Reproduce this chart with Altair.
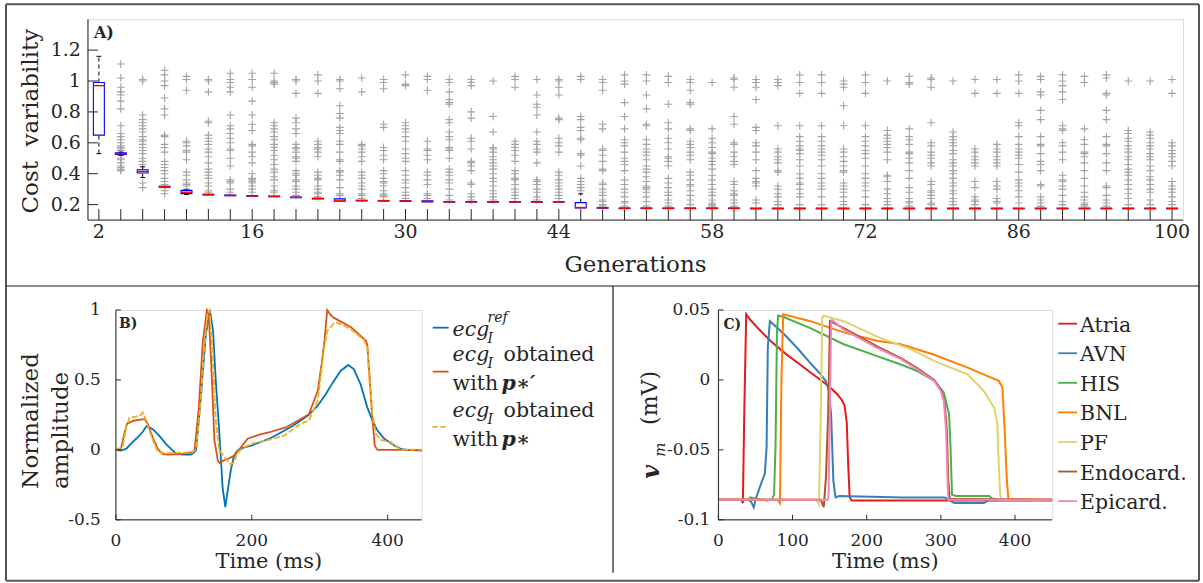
import altair as alt
import pandas as pd

FONT = "DejaVu Serif"
INK = "#262626"
PLUS = "M-1,0L1,0M0,-1L0,1"

# ---------------- Panel A: cost variability per generation ----------------
generations = list(range(2, 101, 2))

box_q1 = [0.65, 0.524, 0.405, 0.313, 0.271, 0.262, 0.257, 0.254, 0.251, 0.245,
          0.237, 0.222, 0.224, 0.223, 0.221, 0.217, 0.216, 0.216, 0.216, 0.216,
          0.216, 0.216, 0.178, 0.177, 0.174, 0.174, 0.174, 0.174, 0.174, 0.174,
          0.173, 0.173, 0.173, 0.173, 0.173, 0.173, 0.173, 0.173, 0.173, 0.173,
          0.173, 0.173, 0.173, 0.173, 0.173, 0.173, 0.173, 0.173, 0.173, 0.173]
box_median = [0.97, 0.53, 0.415, 0.316, 0.28, 0.265, 0.26, 0.256, 0.253, 0.247,
              0.239, 0.229, 0.226, 0.225, 0.223, 0.22, 0.218, 0.218, 0.217, 0.217,
              0.217, 0.217, 0.181, 0.179, 0.176, 0.176, 0.176, 0.176, 0.176, 0.176,
              0.175, 0.175, 0.175, 0.175, 0.175, 0.175, 0.175, 0.175, 0.175, 0.175,
              0.175, 0.175, 0.175, 0.175, 0.175, 0.175, 0.175, 0.175, 0.175, 0.175]
box_q3 = [0.99, 0.536, 0.426, 0.319, 0.292, 0.267, 0.262, 0.258, 0.255, 0.249,
          0.241, 0.238, 0.228, 0.227, 0.225, 0.225, 0.219, 0.219, 0.219, 0.219,
          0.219, 0.219, 0.213, 0.181, 0.178, 0.178, 0.178, 0.178, 0.178, 0.178,
          0.177, 0.177, 0.177, 0.177, 0.177, 0.177, 0.177, 0.177, 0.177, 0.177,
          0.177, 0.177, 0.177, 0.177, 0.177, 0.177, 0.177, 0.177, 0.177, 0.177]
whisker_lo = [0.53, 0.52, 0.375, 0.313, 0.265, 0.262, 0.257, 0.254, 0.251, 0.245,
              0.237, 0.222, 0.224, 0.223, 0.221, 0.217, 0.216, 0.216, 0.216, 0.216,
              0.216, 0.216, 0.178, 0.177, 0.174, 0.174, 0.174, 0.174, 0.174, 0.174,
              0.173, 0.173, 0.173, 0.173, 0.173, 0.173, 0.173, 0.173, 0.173, 0.173,
              0.173, 0.173, 0.173, 0.173, 0.173, 0.173, 0.173, 0.173, 0.173, 0.173]
whisker_hi = [1.16, 0.54, 0.445, 0.319, 0.295, 0.267, 0.262, 0.258, 0.255, 0.249,
              0.241, 0.238, 0.228, 0.227, 0.225, 0.225, 0.219, 0.219, 0.219, 0.219,
              0.219, 0.219, 0.27, 0.181, 0.178, 0.178, 0.178, 0.178, 0.178, 0.178,
              0.177, 0.177, 0.177, 0.177, 0.177, 0.177, 0.177, 0.177, 0.177, 0.177,
              0.177, 0.177, 0.177, 0.177, 0.177, 0.177, 0.177, 0.177, 0.177, 0.177]

outliers = [
    [],
    [1.11, 1.02, 0.96, 0.93, 0.91, 0.87, 0.82, 0.71, 0.66, 0.64, 0.62, 0.60, 0.58, 0.57, 0.56, 0.55, 0.52, 0.50, 0.49, 0.47, 0.45, 0.44, 0.43, 0.42],
    [1.01, 1.00, 0.78, 0.75, 0.73, 0.71, 0.69, 0.67, 0.64, 0.62, 0.61, 0.59, 0.57, 0.55, 0.53, 0.50, 0.48, 0.46, 0.34, 0.31],
    [1.07, 1.04, 1.00, 0.97, 0.89, 0.82, 0.78, 0.65, 0.64, 0.59, 0.57, 0.54, 0.48, 0.46, 0.44, 0.42, 0.40, 0.37, 0.35, 0.33, 0.31, 0.29, 0.27],
    [1.03, 1.01, 0.94, 0.61, 0.60, 0.58, 0.55, 0.54, 0.49, 0.41, 0.39, 0.36, 0.34, 0.33, 0.32, 0.30],
    [1.01, 1.00, 0.93, 0.74, 0.73, 0.65, 0.63, 0.61, 0.59, 0.56, 0.54, 0.51, 0.47, 0.43, 0.41, 0.39, 0.37, 0.34, 0.32, 0.29, 0.28],
    [1.05, 1.01, 0.99, 0.96, 0.93, 0.78, 0.71, 0.69, 0.66, 0.63, 0.60, 0.56, 0.55, 0.50, 0.45, 0.36, 0.35, 0.34, 0.30, 0.28],
    [1.05, 1.01, 0.96, 0.87, 0.78, 0.72, 0.68, 0.59, 0.58, 0.54, 0.51, 0.47, 0.40, 0.37, 0.36, 0.35, 0.34, 0.32, 0.30, 0.28],
    [1.05, 1.00, 0.99, 0.98, 0.73, 0.71, 0.69, 0.67, 0.64, 0.62, 0.59, 0.57, 0.55, 0.52, 0.49, 0.46, 0.43, 0.41, 0.38, 0.36, 0.32, 0.29, 0.28],
    [1.01, 1.00, 0.92, 0.76, 0.73, 0.69, 0.66, 0.59, 0.57, 0.56, 0.54, 0.51, 0.50, 0.48, 0.42, 0.40, 0.39, 0.36, 0.35, 0.32, 0.30, 0.28, 0.26],
    [1.04, 1.00, 0.92, 0.61, 0.59, 0.57, 0.56, 0.54, 0.51, 0.41, 0.39, 0.37, 0.36, 0.32, 0.30, 0.28, 0.27, 0.25],
    [1.01, 1.00, 0.95, 0.84, 0.79, 0.76, 0.70, 0.68, 0.66, 0.61, 0.59, 0.54, 0.49, 0.48, 0.42, 0.41, 0.39, 0.36, 0.31, 0.27, 0.26],
    [1.02, 0.93, 0.59, 0.58, 0.56, 0.54, 0.51, 0.48, 0.41, 0.39, 0.37, 0.34, 0.32, 0.30, 0.27, 0.26, 0.24],
    [1.01, 0.99, 0.95, 0.72, 0.70, 0.57, 0.55, 0.52, 0.49, 0.42, 0.40, 0.37, 0.35, 0.34, 0.32, 0.29, 0.27, 0.26, 0.25],
    [1.04, 0.98, 0.97, 0.73, 0.71, 0.69, 0.67, 0.64, 0.61, 0.56, 0.53, 0.50, 0.48, 0.42, 0.39, 0.36, 0.34, 0.31, 0.28, 0.26, 0.24],
    [1.03, 1.01, 0.94, 0.61, 0.56, 0.55, 0.52, 0.49, 0.41, 0.39, 0.36, 0.33, 0.27, 0.26, 0.24],
    [1.01, 0.99, 0.93, 0.88, 0.86, 0.85, 0.75, 0.73, 0.67, 0.64, 0.62, 0.57, 0.56, 0.55, 0.50, 0.43, 0.41, 0.39, 0.36, 0.34, 0.30, 0.26, 0.23],
    [1.01, 0.99, 0.97, 0.80, 0.76, 0.63, 0.61, 0.56, 0.48, 0.47, 0.45, 0.42, 0.34, 0.33, 0.27, 0.25, 0.23],
    [1.00, 0.77, 0.67, 0.57, 0.56, 0.54, 0.51, 0.49, 0.47, 0.45, 0.43, 0.40, 0.37, 0.35, 0.32, 0.29, 0.27, 0.25, 0.23],
    [1.03, 1.01, 0.96, 0.61, 0.59, 0.57, 0.55, 0.52, 0.48, 0.42, 0.40, 0.37, 0.36, 0.33, 0.30, 0.28, 0.26, 0.24],
    [1.01, 0.91, 0.85, 0.83, 0.78, 0.67, 0.61, 0.59, 0.56, 0.54, 0.47, 0.36, 0.35, 0.33, 0.30, 0.28, 0.25, 0.23],
    [1.01, 1.00, 0.96, 0.91, 0.76, 0.75, 0.63, 0.60, 0.58, 0.54, 0.41, 0.39, 0.36, 0.34, 0.32, 0.30, 0.28, 0.26, 0.24],
    [1.03, 1.01, 0.77, 0.75, 0.70, 0.68, 0.63, 0.62, 0.53, 0.52, 0.45, 0.37, 0.35, 0.33, 0.31, 0.29],
    [1.01, 0.99, 0.94, 0.72, 0.69, 0.56, 0.55, 0.52, 0.48, 0.43, 0.42, 0.34, 0.33, 0.30, 0.28, 0.26, 0.23, 0.22, 0.20, 0.19],
    [1.04, 1.00, 0.98, 0.86, 0.77, 0.69, 0.62, 0.60, 0.58, 0.54, 0.50, 0.48, 0.46, 0.42, 0.36, 0.33, 0.30, 0.28, 0.25, 0.22, 0.21, 0.19],
    [1.04, 1.00, 0.91, 0.82, 0.72, 0.71, 0.62, 0.59, 0.56, 0.54, 0.52, 0.49, 0.45, 0.43, 0.41, 0.38, 0.35, 0.32, 0.31, 0.30, 0.28, 0.25, 0.22, 0.19],
    [1.03, 0.99, 0.85, 0.73, 0.69, 0.63, 0.60, 0.56, 0.51, 0.50, 0.48, 0.45, 0.37, 0.34, 0.31, 0.28, 0.26, 0.23, 0.21, 0.19],
    [1.01, 0.99, 0.94, 0.86, 0.85, 0.69, 0.68, 0.61, 0.59, 0.57, 0.54, 0.52, 0.49, 0.41, 0.39, 0.36, 0.33, 0.32, 0.29, 0.26, 0.23, 0.20],
    [0.99, 0.69, 0.63, 0.60, 0.57, 0.54, 0.53, 0.50, 0.48, 0.46, 0.43, 0.39, 0.36, 0.33, 0.30, 0.28, 0.26, 0.23, 0.21, 0.20, 0.19],
    [1.02, 1.01, 0.96, 0.77, 0.72, 0.60, 0.59, 0.54, 0.51, 0.48, 0.46, 0.35, 0.33, 0.29, 0.27, 0.26, 0.23, 0.21, 0.19],
    [1.01, 0.99, 0.96, 0.88, 0.70, 0.68, 0.60, 0.58, 0.54, 0.49, 0.42, 0.37, 0.35, 0.34, 0.32, 0.23, 0.21],
    [1.01, 0.99, 0.97, 0.71, 0.56, 0.54, 0.51, 0.49, 0.47, 0.42, 0.41, 0.32, 0.30, 0.27, 0.25, 0.22, 0.20],
    [1.04, 0.99, 0.92, 0.71, 0.64, 0.61, 0.58, 0.56, 0.55, 0.53, 0.49, 0.45, 0.40, 0.37, 0.34, 0.33, 0.30, 0.27, 0.25, 0.20],
    [1.04, 0.99, 0.92, 0.71, 0.64, 0.61, 0.58, 0.56, 0.54, 0.52, 0.49, 0.45, 0.40, 0.37, 0.34, 0.32, 0.30, 0.25, 0.20],
    [1.00, 0.98, 0.96, 0.84, 0.71, 0.56, 0.54, 0.51, 0.48, 0.45, 0.42, 0.41, 0.34, 0.32, 0.30, 0.28, 0.25, 0.22, 0.20],
    [1.04, 0.99, 0.92, 0.71, 0.64, 0.61, 0.58, 0.55, 0.53, 0.50, 0.45, 0.40, 0.37, 0.34, 0.32, 0.29, 0.25, 0.20],
    [1.00, 0.68, 0.65, 0.63, 0.61, 0.59, 0.57, 0.54, 0.49, 0.39, 0.38, 0.35, 0.30, 0.27, 0.24, 0.22, 0.20],
    [1.03, 0.99, 0.98, 0.69, 0.64, 0.62, 0.59, 0.54, 0.53, 0.50, 0.47, 0.42, 0.37, 0.31, 0.28, 0.24, 0.22, 0.21, 0.19],
    [1.02, 1.01, 0.96, 0.73, 0.60, 0.58, 0.54, 0.52, 0.50, 0.47, 0.45, 0.35, 0.33, 0.29, 0.28, 0.26, 0.24, 0.21, 0.20],
    [1.00, 0.67, 0.64, 0.62, 0.60, 0.58, 0.55, 0.53, 0.49, 0.47, 0.45, 0.42, 0.40, 0.37, 0.34, 0.32, 0.29, 0.27, 0.24, 0.22, 0.20],
    [1.01, 0.92, 0.56, 0.54, 0.51, 0.49, 0.47, 0.45, 0.35, 0.31, 0.25, 0.23, 0.22, 0.20],
    [1.01, 0.92, 0.59, 0.56, 0.54, 0.51, 0.49, 0.47, 0.45, 0.35, 0.32, 0.30, 0.24, 0.22, 0.21],
    [1.04, 1.00, 0.92, 0.73, 0.71, 0.64, 0.59, 0.56, 0.54, 0.52, 0.50, 0.46, 0.41, 0.36, 0.34, 0.32, 0.29, 0.25, 0.21],
    [1.03, 1.01, 0.93, 0.91, 0.81, 0.75, 0.64, 0.59, 0.58, 0.53, 0.48, 0.46, 0.42, 0.33, 0.32, 0.25, 0.23, 0.21, 0.19],
    [1.04, 1.00, 0.97, 0.93, 0.88, 0.71, 0.69, 0.68, 0.60, 0.58, 0.54, 0.49, 0.39, 0.36, 0.35, 0.32, 0.30, 0.26, 0.22, 0.20],
    [1.03, 0.99, 0.69, 0.62, 0.59, 0.54, 0.53, 0.51, 0.47, 0.42, 0.37, 0.32, 0.28, 0.25, 0.23, 0.21, 0.20, 0.19],
    [1.04, 1.02, 0.92, 0.91, 0.81, 0.75, 0.64, 0.59, 0.58, 0.53, 0.47, 0.42, 0.32, 0.31, 0.26, 0.23, 0.21, 0.19],
    [1.00, 0.68, 0.66, 0.63, 0.61, 0.58, 0.56, 0.54, 0.51, 0.49, 0.46, 0.43, 0.41, 0.39, 0.36, 0.33, 0.30, 0.27, 0.24, 0.20],
    [1.00, 0.67, 0.65, 0.63, 0.60, 0.58, 0.56, 0.53, 0.51, 0.49, 0.45, 0.42, 0.38, 0.36, 0.33, 0.30, 0.28, 0.23, 0.20],
    [1.01, 0.92, 0.60, 0.58, 0.55, 0.53, 0.51, 0.48, 0.45, 0.35, 0.32, 0.30, 0.28, 0.25, 0.22, 0.20],
]

gen_labels = [2, 16, 30, 44, 58, 72, 86, 100]
gen_label_text = ["2", "16", "30", "44", "58", "72", "86", "100"]
cost_ticks = [0.2, 0.4, 0.6, 0.8, 1.0, 1.2]
cost_tick_text = ["0.2", "0.4", "0.6", "0.8", "1", "1.2"]

# ---------------- Panel B: lead-I ECG comparison ----------------
ref_t = [0, 7, 15, 24.5, 32, 39, 45, 54, 64, 73.6, 81, 88, 98, 110.6, 115, 118, 125, 132.5,
         138.4, 143, 147, 152, 157, 161, 164, 169, 174, 179, 184, 199, 215, 230, 245, 260,
         272, 284, 297, 309, 321, 331, 342, 350, 360, 370, 377.5, 385, 395, 410, 419, 429, 450]
ref_v = [0, -0.005, 0.007, 0.055, 0.09, 0.126, 0.17, 0.15, 0.10, 0.043, 0.007, -0.024, -0.033,
         -0.033, -0.02, 0.0, 0.376, 0.83, 1.0, 0.85, 0.495, 0.138, -0.267, -0.41, -0.31,
         -0.148, -0.04, -0.005, 0.01, 0.03, 0.06, 0.09, 0.13, 0.17, 0.21, 0.25, 0.316, 0.40,
         0.495, 0.566, 0.607, 0.578, 0.471, 0.304, 0.21, 0.138, 0.079, 0.031, 0.007, 0.0, -0.005]

pprime_t = [0, 7.4, 12.3, 16.2, 22, 27, 34, 42, 47, 54, 61.6, 69, 76.5, 96, 113, 116, 122,
            128, 134, 136.5, 140.4, 145, 150, 153, 158, 165, 174.6, 184, 194, 210, 226, 250,
            272, 284, 297, 303, 307, 311, 316, 320, 346, 368, 370, 373, 377, 381, 385, 450]
pprime_v = [0, 0.007, 0.114, 0.186, 0.2, 0.21, 0.215, 0.22, 0.186, 0.09, 0.007, -0.03, -0.033,
            -0.03, -0.017, 0.007, 0.3, 0.78, 1.0, 0.98, 0.61, 0.067, -0.076, -0.095, -0.076,
            -0.064, -0.04, 0.019, 0.08, 0.107, 0.126, 0.16, 0.22, 0.255, 0.42, 0.62, 0.78, 1.0,
            0.964, 0.947, 0.876, 0.78, 0.75, 0.55, 0.25, 0.03, 0.0, 0.0]

pstar_t = [0, 10, 15, 20, 27, 37, 39.6, 43, 49, 56.6, 61.6, 71, 96, 113, 118, 124, 130, 135,
           138, 142, 147, 152, 159.6, 169, 174, 179, 189, 203, 223, 247, 272, 284, 297, 306.6,
           311, 321, 326, 345.6, 365, 370, 372.5, 377.5, 382.6, 390, 404.7, 412, 419, 450]
pstar_v = [0, 0.02, 0.16, 0.23, 0.235, 0.25, 0.267, 0.23, 0.14, 0.043, -0.013, -0.024, -0.02,
           -0.017, 0.007, 0.3, 0.73, 0.98, 1.0, 0.73, 0.21, 0.0, -0.05, -0.105, -0.088, -0.02,
           0.02, 0.048, 0.07, 0.1, 0.186, 0.21, 0.35, 0.73, 0.85, 0.904, 0.91, 0.864, 0.786,
           0.73, 0.54, 0.257, 0.114, 0.071, 0.055, 0.024, 0.002, 0.002]

ecg_t_ticks = [0, 200, 400]
ecg_t_text = ["0", "200", "400"]
ecg_v_ticks = [-0.5, 0, 0.5, 1]
ecg_v_text = ["-0.5", "0", "0.5", "1"]

# ---------------- Panel C: action potentials per tissue ----------------
atria_t = [0, 31, 33, 35, 37.5, 43, 55, 70, 90, 110, 125, 138, 150, 160, 166, 170, 173, 175,
           177, 180, 450]
atria_v = [-0.0857, -0.0857, -0.088, -0.02, 0.047, 0.043, 0.036, 0.028, 0.019, 0.011, 0.005,
           0.0, -0.005, -0.010, -0.014, -0.018, -0.03, -0.06, -0.084, -0.0862, -0.0862]
avn_t = [0, 40, 44, 47.7, 50, 53, 59, 62.6, 65, 66.6, 69.4, 80, 88, 106, 124, 138, 145, 149,
         152, 155, 158, 163, 250, 305, 313, 318, 340, 358, 365, 450]
avn_v = [-0.0857, -0.0857, -0.087, -0.091, -0.086, -0.081, -0.072, -0.067, -0.048, 0.023,
         0.042, 0.037, 0.033, 0.023, 0.012, 0.004, -0.001, -0.008, -0.025, -0.072, -0.084,
         -0.083, -0.084, -0.084, -0.0865, -0.088, -0.088, -0.088, -0.086, -0.0857]
his_t = [0, 40, 43, 50, 60, 66, 72.5, 75, 77, 79, 80.6, 88, 124, 169, 214, 246, 268, 291,
         304, 311, 313, 315, 320, 365, 370, 376, 450]
his_v = [-0.0857, -0.0857, -0.084, -0.085, -0.0855, -0.0864, -0.085, -0.082, -0.048, 0.035,
         0.046, 0.045, 0.037, 0.0255, 0.017, 0.011, 0.0064, -0.0007, -0.009, -0.0245, -0.048,
         -0.082, -0.083, -0.083, -0.085, -0.0857, -0.0857]
bnl_t = [0, 80, 83, 85, 87.4, 124, 169, 214, 246, 291, 336, 378, 383, 386, 389, 391, 450]
bnl_v = [-0.0857, -0.0857, -0.088, 0.0, 0.047, 0.042, 0.034, 0.028, 0.0255, 0.018, 0.0088,
         -0.0007, -0.0055, -0.036, -0.072, -0.085, -0.0857]
pf_t = [0, 132, 135.6, 138, 140, 142, 169, 214, 259, 291, 313, 336, 358, 372, 376, 378, 380,
        382, 450]
pf_v = [-0.0857, -0.0857, -0.089, -0.025, 0.0445, 0.046, 0.042, 0.031, 0.022, 0.0136, 0.0088,
        0.004, -0.008, -0.020, -0.031, -0.06, -0.082, -0.0857, -0.0857]
endo_t = [0, 138, 142, 145, 148, 150.5, 169, 214, 246, 268, 291, 300, 305, 308, 310, 312, 450]
endo_v = [-0.0857, -0.0857, -0.091, -0.07, -0.025, 0.042, 0.037, 0.024, 0.0155, 0.0085, 0.0,
          -0.007, -0.016, -0.036, -0.072, -0.085, -0.0857]
epi_t = [0, 147, 148.5, 150, 152, 153, 169, 214, 246, 268, 291, 300, 304, 307, 309, 310, 450]
epi_v = [-0.0857, -0.0857, -0.084, -0.03, 0.040, 0.043, 0.036, 0.023, 0.0148, 0.0076, -0.0007,
         -0.008, -0.015, -0.036, -0.072, -0.0857, -0.0857]

tissue_names = ["Atria", "AVN", "HIS", "BNL", "PF", "Endocard.", "Epicard."]
tissue_colors = ["#e41a1c", "#377eb8", "#4daf4a", "#ff7f00", "#e0d26e", "#a65628", "#f781bf"]
tissue_series = [(atria_t, atria_v), (avn_t, avn_v), (his_t, his_v), (bnl_t, bnl_v),
                 (pf_t, pf_v), (endo_t, endo_v), (epi_t, epi_v)]

ap_t_ticks = [0, 100, 200, 300, 400]
ap_t_text = ["0", "100", "200", "300", "400"]
ap_v_ticks = [-0.1, -0.05, 0, 0.05]
ap_v_text = ["-0.1", "-0.05", "0", "0.05"]

# ---------------- sizes of the three plot areas ----------------
WA, HA = 1096, 201
WB, HB = 306, 210
WC, HC = 334, 210

one = pd.DataFrame({"k": [0]})


def seg(x1, y1, x2, y2, color=INK, width=1.0, dash=None):
    kw = dict(color=color, strokeWidth=width)
    if dash:
        kw["strokeDash"] = dash
    return alt.Chart(one).mark_rule(**kw).encode(
        x=alt.value(x1), y=alt.value(y1), x2=alt.value(x2), y2=alt.value(y2))


def label(txt, x, y, size, **kw):
    return alt.Chart(one).mark_text(text=txt, font=FONT, fontSize=size, color=INK,
                                    align=kw.pop("align", "left"),
                                    baseline=kw.pop("baseline", "alphabetic"), **kw).encode(
        x=alt.value(x), y=alt.value(y))


def frame_axes(w, h, xscale, yscale, xticks, xtext, yticks, ytext, tick_len_x, tick_len_y,
               size, xlab_base, ylab_gap):
    """Axis lines, inward ticks and tick labels of one panel."""
    xdf = pd.DataFrame({"p": xticks, "s": xtext})
    ydf = pd.DataFrame({"p": yticks, "s": ytext})
    return [
        seg(0, 0, 0, h), seg(0, h, w, h),
        alt.Chart(xdf).mark_rule(color=INK, strokeWidth=1).encode(
            x=alt.X("p:Q", scale=xscale, axis=None), y=alt.value(h), y2=alt.value(h - tick_len_x)),
        alt.Chart(ydf).mark_rule(color=INK, strokeWidth=1).encode(
            y=alt.Y("p:Q", scale=yscale, axis=None), x=alt.value(0), x2=alt.value(tick_len_y)),
        alt.Chart(xdf).mark_text(font=FONT, fontSize=size, color=INK, align="center",
                                 baseline="alphabetic").encode(
            x=alt.X("p:Q", scale=xscale, axis=None), y=alt.value(h + xlab_base), text="s:N"),
        alt.Chart(ydf).mark_text(font=FONT, fontSize=size, color=INK, align="right",
                                 baseline="middle").encode(
            y=alt.Y("p:Q", scale=yscale, axis=None), x=alt.value(-ylab_gap), text="s:N"),
    ]


# ---------------- Panel A chart ----------------
box_df = pd.DataFrame({"gen": generations, "q1": box_q1, "med": box_median, "q3": box_q3,
                       "wlo": whisker_lo, "whi": whisker_hi})
out_df = pd.DataFrame([(g, v) for g, vals in zip(generations, outliers) for v in vals],
                      columns=["gen", "cost"])
xA = alt.Scale(domain=[1, 101], nice=False, zero=False)
yA = alt.Scale(domain=[0.1, 1.4], nice=False, zero=False)

a_ticks_x = alt.Chart(box_df).mark_rule(color=INK, strokeWidth=1).encode(
    x=alt.X("gen:Q", scale=xA, axis=None), y=alt.value(HA), y2=alt.value(HA - 11))

a_points = alt.Chart(out_df).mark_point(shape=PLUS, filled=False, stroke="#a3a3a3",
                                        strokeWidth=1.1, size=60, opacity=1).encode(
    x=alt.X("gen:Q", scale=xA, axis=None), y=alt.Y("cost:Q", scale=yA, axis=None))

box_base = alt.Chart(box_df).transform_calculate(
    xl="datum.gen - 0.5", xr="datum.gen + 0.5", cl="datum.gen - 0.22", cr="datum.gen + 0.22")

w_hi = box_base.transform_filter("datum.whi - datum.q3 > 0.002")
w_lo = box_base.transform_filter("datum.q1 - datum.wlo > 0.002")
a_whisk_hi = w_hi.mark_rule(color="black", strokeWidth=1, strokeDash=[4, 3]).encode(
    x=alt.X("gen:Q", scale=xA, axis=None), y=alt.Y("q3:Q", scale=yA, axis=None), y2="whi:Q")
a_whisk_lo = w_lo.mark_rule(color="black", strokeWidth=1, strokeDash=[4, 3]).encode(
    x=alt.X("gen:Q", scale=xA, axis=None), y=alt.Y("wlo:Q", scale=yA, axis=None), y2="q1:Q")
a_cap_hi = w_hi.mark_rule(color="black", strokeWidth=1).encode(
    x=alt.X("cl:Q", scale=xA, axis=None), x2="cr:Q", y=alt.Y("whi:Q", scale=yA, axis=None))
a_cap_lo = w_lo.mark_rule(color="black", strokeWidth=1).encode(
    x=alt.X("cl:Q", scale=xA, axis=None), x2="cr:Q", y=alt.Y("wlo:Q", scale=yA, axis=None))
a_box = box_base.mark_rect(fillOpacity=0, stroke="#0000ff", strokeWidth=1.1).encode(
    x=alt.X("xl:Q", scale=xA, axis=None), x2="xr:Q",
    y=alt.Y("q1:Q", scale=yA, axis=None), y2="q3:Q")
a_median = box_base.mark_rule(color="#ff0000", strokeWidth=1.4).encode(
    x=alt.X("xl:Q", scale=xA, axis=None), x2="xr:Q", y=alt.Y("med:Q", scale=yA, axis=None))

# figure frame and separators, in pixels relative to panel A's plot area
FL, FR, FT, FB = -82, 1112, -15, 562
HSEP, VSEP = 267, 525.5
frame = [
    seg(FL, FT, FR, FT, "#555555", 2), seg(FL, FB, FR, FB, "#555555", 2),
    seg(FL, FT, FL, FB, "#555555", 2), seg(FR, FT, FR, FB, "#555555", 2),
    seg(FL, HSEP, FR, HSEP, "#1a1a1a", 1.2), seg(VSEP, HSEP, VSEP, FB - 8, "#1a1a1a", 1.2),
]

panel_a = alt.layer(
    a_ticks_x, a_points, a_whisk_hi, a_whisk_lo, a_cap_hi, a_cap_lo, a_box, a_median,
    *frame_axes(WA, HA, xA, yA, gen_labels, gen_label_text, cost_ticks, cost_tick_text,
                0, 10, 19, 18, 7),
    label("Generations", WA / 2, HA + 52, 23, align="center"),
    label("Cost\u00a0\u00a0variability", -50, 102, 23, align="center", angle=270),
    label("A)", 6, 19, 16, fontWeight="bold"),
    *frame,
).properties(width=WA, height=HA)

# ---------------- Panel B chart ----------------
xB = alt.Scale(domain=[0, 450], nice=False, zero=False)
yB = alt.Scale(domain=[-0.5, 1], nice=False, zero=False)


def ecg_line(t, v, color, dash=None):
    kw = dict(color=color, strokeWidth=1.8)
    if dash:
        kw["strokeDash"] = dash
    return alt.Chart(pd.DataFrame({"t": t, "v": v})).mark_line(**kw).encode(
        x=alt.X("t:Q", scale=xB, axis=None), y=alt.Y("v:Q", scale=yB, axis=None), order="t:Q")


BLUE, ORANGE, YELLOW = "#0072bd", "#d95319", "#edb120"
LX = 337
b_legend = [
    seg(317, 17.7, 333, 17.7, BLUE, 1.8),
    label("ecg", LX, 26, 20.5, fontStyle="italic"),
    label("I", LX + 35, 33, 14, fontStyle="italic"),
    label("ref", LX + 35, 12, 14, fontStyle="italic"),
    seg(317, 61.7, 333, 61.7, ORANGE, 1.8),
    label("ecg", LX, 51, 20.5, fontStyle="italic"),
    label("I", LX + 35, 58, 14, fontStyle="italic"),
    label("obtained", LX + 51, 51, 20.5),
    label("with", LX, 80, 20.5),
    label("p\u2217\u2032", LX + 49, 80, 20.5, fontStyle="italic", fontWeight="bold"),
    seg(317, 117, 333, 117, YELLOW, 1.8, [5, 3]),
    label("ecg", LX, 107, 20.5, fontStyle="italic"),
    label("I", LX + 35, 114, 14, fontStyle="italic"),
    label("obtained", LX + 51, 107, 20.5),
    label("with", LX, 136, 20.5),
    label("p\u2217", LX + 49, 136, 20.5, fontStyle="italic", fontWeight="bold"),
]

panel_b = alt.layer(
    ecg_line(ref_t, ref_v, BLUE),
    ecg_line(pprime_t, pprime_v, ORANGE),
    ecg_line(pstar_t, pstar_v, YELLOW, dash=[6, 2]),
    *frame_axes(WB, HB, xB, yB, ecg_t_ticks, ecg_t_text, ecg_v_ticks, ecg_v_text,
                5, 5, 17, 26, 15),
    label("Time (ms)", WB / 2, HB + 48, 21, align="center"),
    label("Normalized", -78, 111, 23, align="center", angle=270),
    label("amplitude", -48, 120.5, 23, align="center", angle=270),
    label("B)", 3, 18, 14, fontWeight="bold"),
    *b_legend,
).properties(width=WB, height=HB)

# ---------------- Panel C chart ----------------
xC = alt.Scale(domain=[0, 450], nice=False, zero=False)
yC = alt.Scale(domain=[-0.1, 0.05], nice=False, zero=False)

c_layers = [
    alt.Chart(pd.DataFrame({"t": t, "v": v})).mark_line(color=col, strokeWidth=2).encode(
        x=alt.X("t:Q", scale=xC, axis=None), y=alt.Y("v:Q", scale=yC, axis=None), order="t:Q")
    for (t, v), col in zip(tissue_series, tissue_colors)
]

c_legend = []
for i, (name, col) in enumerate(zip(tissue_names, tissue_colors)):
    yy = 13.7 + i * 29.6
    c_legend.append(seg(340, yy, 359, yy, col, 1.8))
    c_legend.append(label(name, 362, yy + 8, 20.5))

c_title = [
    label("v", -59, 169, 24, angle=270, fontStyle="italic", fontWeight="bold"),
    label("m", -53, 147, 15, angle=270, fontStyle="italic"),
    label("(mV)", -61, 115, 22, angle=270),
]

panel_c = alt.layer(
    *c_layers,
    *frame_axes(WC, HC, xC, yC, ap_t_ticks, ap_t_text, ap_v_ticks, ap_v_text,
                5, 5, 17, 26, 8),
    label("Time (ms)", WC / 2, HC + 48, 21, align="center"),
    label("C)", 5, 19, 14, fontWeight="bold"),
    *c_legend, *c_title,
).properties(width=WC, height=HC)

spacer_l = alt.Chart(one).mark_point(opacity=0).properties(width=28, height=HB)
spacer_m = alt.Chart(one).mark_point(opacity=0).properties(width=297, height=HB)

bottom = alt.hconcat(spacer_l, panel_b, spacer_m, panel_c, spacing=0, bounds="flush")
chart = alt.vconcat(panel_a, bottom, spacing=90, bounds="flush").properties(
    padding={"left": 4, "top": 2, "right": 2, "bottom": 2}, background="white"
).configure_view(stroke=None).configure(font=FONT)

chart.save("out.html", embed_options={"renderer": "svg", "actions": False})
